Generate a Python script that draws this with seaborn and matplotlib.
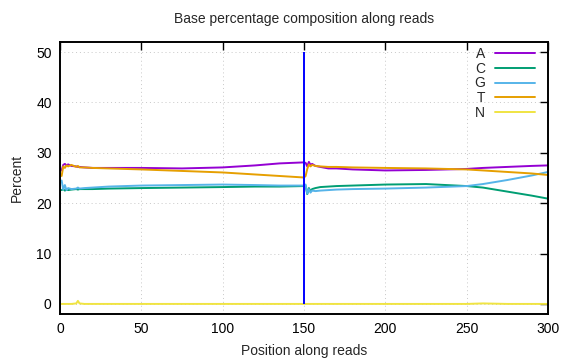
import pandas as pd
import matplotlib.pyplot as plt
from matplotlib.lines import Line2D
import seaborn as sns

# Base composition per read position (read 1: 1-150, read 2: 151-300)
positions = [1, 2, 3, 4, 5, 7, 10, 11, 12, 15, 20, 30, 50, 75, 100, 120, 135, 150,
             151, 152, 153, 154, 155, 157, 160, 165, 170, 180, 200, 225, 250, 260, 275, 290, 300]
a_pct = [26.5, 27.6, 27.8, 27.5, 27.7, 27.4, 27.3, 27.2, 27.2, 27.1, 27.0, 27.0, 27.0, 26.9, 27.1, 27.5, 27.9, 28.1,
         28.0, 27.3, 28.2, 27.6, 27.8, 27.4, 27.2, 26.9, 26.9, 26.7, 26.5, 26.6, 26.8, 27.0, 27.2, 27.4, 27.5]
c_pct = [22.6, 22.8, 22.5, 22.7, 22.6, 22.7, 22.8, 22.7, 22.8, 22.8, 22.8, 22.9, 23.0, 23.1, 23.2, 23.3, 23.3, 23.4,
         23.4, 21.8, 23.0, 22.4, 22.8, 23.0, 23.2, 23.3, 23.4, 23.5, 23.7, 23.8, 23.4, 23.1, 22.3, 21.5, 20.9]
g_pct = [24.5, 22.7, 23.6, 22.6, 23.0, 22.8, 22.9, 23.1, 22.9, 23.0, 23.1, 23.3, 23.5, 23.6, 23.7, 23.6, 23.5, 23.5,
         23.7, 21.9, 22.8, 22.1, 22.5, 22.4, 22.5, 22.6, 22.7, 22.8, 22.9, 23.1, 23.4, 23.8, 24.6, 25.5, 26.2]
t_pct = [25.4, 27.3, 27.0, 27.5, 27.3, 27.6, 27.2, 27.4, 27.1, 27.1, 27.0, 26.9, 26.7, 26.4, 26.1, 25.7, 25.4, 25.1,
         25.4, 26.8, 27.7, 27.3, 27.6, 27.4, 27.3, 27.2, 27.2, 27.1, 27.0, 26.9, 26.7, 26.5, 26.2, 25.9, 25.6]
n_pct = [0, 0, 0, 0, 0, 0, 0.1, 0.6, 0.1, 0, 0, 0, 0, 0, 0, 0, 0, 0,
         0, 0, 0, 0, 0, 0, 0, 0, 0, 0, 0, 0, 0, 0.1, 0, 0, 0]
read_boundary = 150

bases = ['A', 'C', 'G', 'T', 'N']
colors = {'A': '#9400d3', 'C': '#009e73', 'G': '#56b4e9', 'T': '#e69f00', 'N': '#f0e442'}

df = pd.DataFrame({'position': positions, 'A': a_pct, 'C': c_pct,
                   'G': g_pct, 'T': t_pct, 'N': n_pct})
df = df.melt(id_vars='position', var_name='base', value_name='percent')

sns.set_theme(style='white')
plt.rcParams['font.family'] = ['Liberation Sans', 'DejaVu Sans']

fig = plt.figure(figsize=(5.76, 3.6), dpi=100)
ax = fig.add_axes([60 / 576, 1 - 314 / 360, 488 / 576, 272 / 360])

sns.lineplot(data=df, x='position', y='percent', hue='base', hue_order=bases,
             palette=colors, linewidth=1.4, estimator=None, legend=False, ax=ax)
ax.vlines(read_boundary, 0, 50, color='#0000ff', linewidth=1.4, zorder=5)

ax.set_xlim(0, 300)
ax.set_ylim(-2, 52)
ax.set_xticks(range(0, 301, 50))
ax.set_yticks(range(0, 51, 10))
ax.grid(True, linestyle=(0, (1, 3)), color='#c8c8c8', linewidth=0.7)
ax.tick_params(direction='in', top=True, right=True, length=6, width=1,
               labelsize=10, pad=6, colors='black')
for s in ax.spines.values():
    s.set_linewidth(1.4)
    s.set_color('black')

ax.set_title('Base percentage composition along reads', fontsize=10, pad=14)
ax.set_xlabel('Position along reads', fontsize=10)
ax.set_ylabel('Percent', fontsize=10)
ax.xaxis.set_label_coords(0.5, -0.11)
ax.yaxis.set_label_coords(-0.075, 0.5)

handles = [Line2D([], [], color=colors[b], linewidth=1.4) for b in bases]
ax.legend(handles, bases, loc='upper right', frameon=False, markerfirst=False,
          fontsize=10, handlelength=2.9, handletextpad=0.7, labelspacing=0.05,
          borderpad=0, borderaxespad=0,
          bbox_to_anchor=(535 / 576, 1 - 47 / 360), bbox_transform=fig.transFigure)

fig.savefig('out.png', dpi=100)
